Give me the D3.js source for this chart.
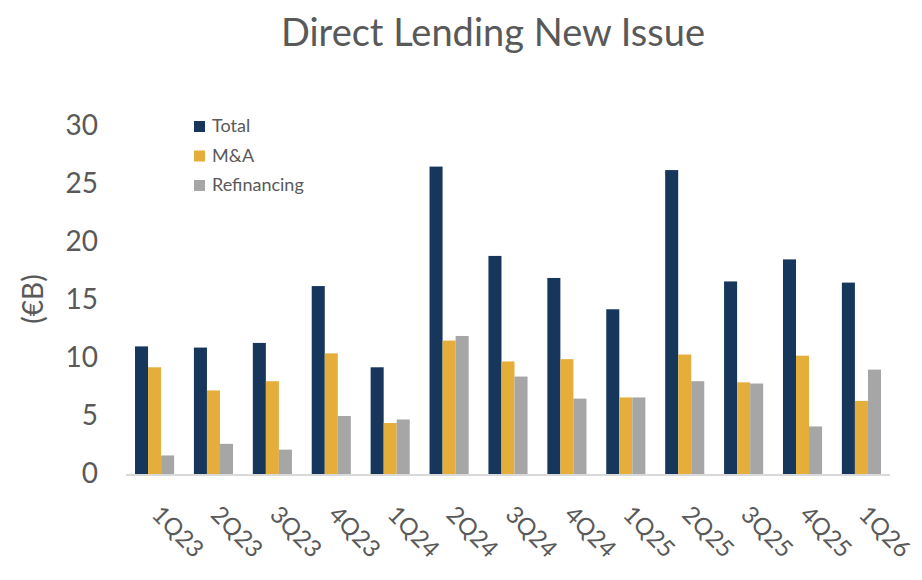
<!DOCTYPE html>
<html>
<head>
<meta charset="UTF-8">
<title>Direct Lending New Issue</title>
<script src="https://cdn.jsdelivr.net/npm/d3@7"></script>
<style>
  body { margin: 0; background: #fff; }
  text { font-family: Lato, "Open Sans", sans-serif; fill: #595959; }
</style>
</head>
<body>
<script>
// quarters on the x axis
var quarters = ["1Q23", "2Q23", "3Q23", "4Q23", "1Q24", "2Q24", "3Q24", "4Q24", "1Q25", "2Q25", "3Q25", "4Q25", "1Q26"];
// series values (EUR bn)
var total = [11.0, 10.9, 11.3, 16.2, 9.2, 26.5, 18.8, 16.9, 14.2, 26.2, 16.6, 18.5, 16.5];
var mna = [9.2, 7.2, 8.0, 10.4, 4.4, 11.5, 9.7, 9.9, 6.6, 10.3, 7.9, 10.2, 6.3];
var refi = [1.6, 2.6, 2.1, 5.0, 4.7, 11.9, 8.4, 6.5, 6.6, 8.0, 7.8, 4.1, 9.0];
var seriesNames = ["Total", "M&A", "Refinancing"];
var yTicks = [0, 5, 10, 15, 20, 25, 30];

var colors = ["#17365c", "#e5ae3a", "#a6a6a6"];
var w = 922, h = 580;

var svg = d3.select("body").append("svg")
  .attr("width", w)
  .attr("height", h);

//scales
var x0 = d3.scaleBand()
  .domain(quarters)
  .range([126, 890])
  .paddingInner(0.336)
  .paddingOuter(0.153);

var x1 = d3.scaleBand()
  .domain(seriesNames)
  .range([0, x0.bandwidth()]);

var y = d3.scaleLinear()
  .domain([0, 30])
  .range([474, 126]);

//title
svg.append("text")
  .attr("x", 493)
  .attr("y", 46)
  .attr("text-anchor", "middle")
  .attr("font-size", "38px")
  .text("Direct Lending New Issue");

//y axis (labels only)
var yAxis = d3.axisLeft(y).tickValues(yTicks).tickSize(0).tickPadding(0);
var gy = svg.append("g")
  .attr("transform", "translate(98,0)")
  .call(yAxis);
gy.select(".domain").remove();
gy.selectAll("text")
  .attr("font-size", "28px")
  .attr("fill", "#595959")
  .style("font-family", "Lato, sans-serif");

svg.append("text")
  .attr("transform", "translate(43,299) rotate(-90)")
  .attr("text-anchor", "middle")
  .attr("font-size", "28px")
  .text("(€B)");

//bars
var data = quarters.map(function(q, i) {
  return { q: q, vals: [total[i], mna[i], refi[i]] };
});

var groups = svg.selectAll("g.grp")
  .data(data)
  .enter()
  .append("g")
  .attr("class", "grp")
  .attr("transform", function(d) { return "translate(" + x0(d.q) + ",0)"; });

groups.selectAll("rect")
  .data(function(d) { return d.vals.map(function(v, k) { return { name: seriesNames[k], v: v, k: k }; }); })
  .enter()
  .append("rect")
  .attr("x", function(d) { return x1(d.name); })
  .attr("width", x1.bandwidth())
  .attr("y", function(d) { return y(d.v); })
  .attr("height", function(d) { return y(0) - y(d.v); })
  .attr("fill", function(d) { return colors[d.k]; });

//x axis
var xAxis = d3.axisBottom(x0).tickSize(0).tickPadding(0);
var gx = svg.append("g")
  .attr("transform", "translate(0," + y(0) + ")")
  .call(xAxis);
gx.select(".domain")
  .attr("stroke", "#d9d9d9")
  .attr("stroke-width", 2)
  .attr("d", "M126,1H890");
gx.selectAll("text")
  .attr("font-size", "24px")
  .attr("fill", "#595959")
  .style("font-family", "Lato, sans-serif")
  .attr("text-anchor", "start")
  .attr("dy", 0)
  .attr("transform", "translate(-4,42) rotate(45)");

//legend
var legend = svg.append("g");
seriesNames.forEach(function(name, k) {
  var ly = 121 + k * 29.5;
  legend.append("rect")
    .attr("x", 194)
    .attr("y", ly)
    .attr("width", 11)
    .attr("height", 11)
    .attr("fill", colors[k]);
  legend.append("text")
    .attr("x", 212)
    .attr("y", ly + 11)
    .attr("font-size", "18px")
    .text(name);
});
</script>
</body>
</html>
